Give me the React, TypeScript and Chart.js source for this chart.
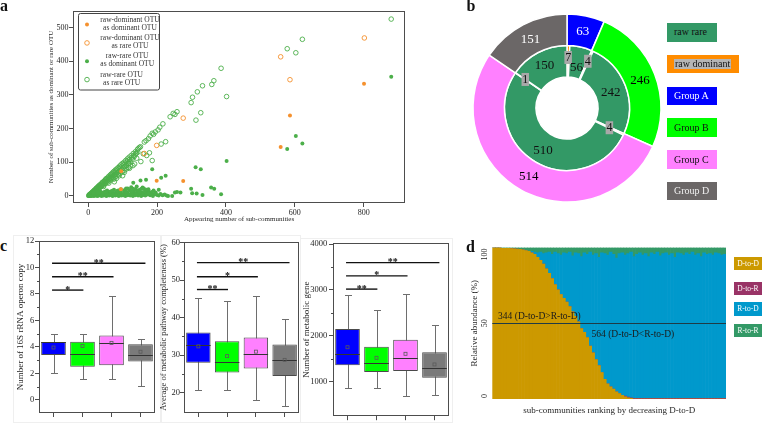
import React, { useEffect, useRef } from 'react';
import { Chart, registerables } from 'chart.js';

Chart.register(...registerables);

const SERIF = '"Liberation Serif", "Times New Roman", Times, serif';
const AXIS = '#4d4d4d';
const TEXT = '#262626';

type Pt = [number, number];

/* ---------- a: raw dominant / rare OTUs across sub-communities ---------- */
const scatterXTicks = [0, 200, 400, 600, 800];
const scatterYTicks = [0, 100, 200, 300, 400, 500];
const scatterSeriesNames = [
  'raw-dominant OTU\nas dominant OTU',
  'raw-dominant OTU\nas rare OTU',
  'raw-rare OTU\nas dominant OTU',
  'raw-rare OTU\nas rare OTU',
];
const dominantAsDominant: Pt[] = [
  [801, 333], [586, 239], [559, 145], [276, 44], [199, 45], [95, 20], [96, 73],
];
const dominantAsRare: Pt[] = [
  [802, 469], [559, 413], [586, 345], [276, 231], [199, 150], [163, 126],
];
const rareAsDominant: Pt[] = [
  [880, 354], [603, 178], [622, 156], [578, 139], [402, 104], [312, 85], [327, 79],
  [186, 79], [225, 60], [212, 54], [168, 48], [152, 46], [131, 39], [141, 28], [158, 25],
  [299, 21], [302, 8], [315, 7], [332, 3], [357, 25], [366, 21], [386, 5], [258, 12],
  [252, 10], [244, 0], [232, 0], [268, 10],
  [0, 0], [2, 1], [4, 0], [5, 2], [7, 1], [9, 3], [10, 0], [12, 2], [14, 4], [15, 1],
  [17, 0], [19, 3], [20, 5], [22, 1], [24, 2], [25, 6], [27, 0], [29, 3], [31, 1], [33, 7],
  [35, 2], [37, 4], [39, 0], [41, 8], [43, 3], [45, 1], [47, 5], [49, 9], [51, 2], [53, 0],
  [55, 6], [57, 3], [59, 10], [61, 1], [63, 4], [65, 7], [67, 2], [69, 11], [71, 0], [73, 5],
  [75, 3], [77, 8], [79, 1], [81, 12], [83, 4], [85, 2], [87, 6], [89, 0], [91, 9], [93, 3],
  [95, 13], [97, 1], [99, 5], [102, 2], [104, 8], [106, 15], [108, 0], [111, 4], [113, 10],
  [115, 2], [118, 6], [120, 17], [122, 1], [125, 3], [127, 8], [130, 0], [132, 12], [135, 5],
  [137, 2], [140, 9], [143, 14], [145, 1], [148, 4], [151, 7], [154, 0], [157, 11], [160, 3],
  [163, 6], [166, 1], [169, 9], [172, 4], [176, 13], [180, 2], [184, 7], [188, 0], [192, 5],
  [196, 10], [200, 3], [205, 1], [210, 6], [216, 2], [222, 4], [228, 1],
  [110, 22], [125, 26], [138, 20], [150, 18], [162, 22], [175, 20], [190, 16], [205, 18],
  [15, 9], [25, 12], [35, 14], [45, 11], [55, 16], [65, 13], [75, 18], [85, 15], [95, 20],
  [105, 17], [115, 22], [125, 14], [135, 19], [145, 16], [155, 21], [165, 15], [175, 8],
  [185, 12], [195, 6], [30, 10], [50, 13], [70, 15], [90, 17], [110, 12], [130, 21],
  [150, 11], [170, 18],
];
const rareAsRare: Pt[] = [
  [880, 525], [622, 465], [603, 425], [578, 437], [386, 379], [402, 295], [365, 342],
  [359, 331], [317, 309], [303, 293], [299, 277], [332, 327], [327, 247], [313, 225],
  [247, 245], [258, 250], [252, 242], [238, 235], [217, 214], [208, 204], [203, 196],
  [186, 186], [225, 161], [212, 154], [186, 105], [170, 120], [153, 102], [130, 90],
  [141, 112], [178, 128], [160, 125], [76, 42], [118, 96], [195, 190], [190, 183],
  [180, 178], [175, 170], [168, 164], [163, 160],
  [2, 2], [4, 3], [5, 5], [7, 6], [8, 4], [10, 9], [11, 7], [13, 12], [14, 10], [16, 15],
  [17, 12], [19, 18], [20, 14], [22, 21], [23, 17], [25, 24], [26, 19], [28, 27], [30, 23],
  [31, 30], [33, 26], [34, 33], [36, 29], [38, 36], [39, 31], [41, 40], [43, 34], [44, 42],
  [46, 37], [48, 46], [49, 39], [51, 50], [53, 43], [54, 52], [56, 45], [58, 56], [60, 49],
  [61, 59], [63, 51], [65, 63], [67, 54], [68, 66], [70, 57], [72, 70], [74, 60], [75, 73],
  [77, 63], [79, 77], [81, 66], [83, 80], [85, 69], [87, 84], [89, 72], [91, 88], [93, 75],
  [95, 92], [97, 79], [99, 96], [102, 83], [104, 100], [106, 87], [109, 105], [111, 91],
  [114, 110], [117, 97], [119, 115], [122, 103], [125, 120], [128, 109], [131, 126],
  [134, 117], [137, 131], [140, 127], [143, 138], [146, 141], [149, 144], [152, 146],
  [30, 18], [45, 28], [60, 38], [75, 50], [90, 60], [105, 70], [120, 82], [135, 95],
  [100, 60], [82, 52],
  [6, 5], [12, 11], [18, 16], [24, 22], [30, 27], [36, 32], [42, 38], [48, 43], [54, 49],
  [60, 54], [66, 59], [72, 65], [78, 70], [84, 76], [90, 81], [96, 86], [102, 92], [108, 97],
  [114, 103], [120, 108], [126, 113], [132, 119], [138, 124], [144, 130],
  [9, 6], [15, 11], [21, 15], [27, 19], [33, 24], [39, 28], [45, 32], [51, 37], [57, 41],
  [63, 45], [69, 50], [75, 54], [81, 58], [87, 63], [93, 67], [99, 71], [105, 76], [111, 80],
  [117, 84], [123, 89],
];

/* ---------- b: raw rare / dominant OTUs within the four groups ---------- */
const groupNames = ['Group A', 'Group B', 'Group C', 'Group D'];
const groupTotals = [63, 246, 514, 151];
const otuKinds = ['raw dominant', 'raw rare', 'raw dominant', 'raw rare', 'raw dominant', 'raw rare', 'raw dominant', 'raw rare'];
const otuCounts = [7, 56, 4, 242, 4, 510, 1, 150];
const donutLegendNames = ['raw rare', 'raw dominant', 'Group A', 'Group B', 'Group C', 'Group D'];

/* ---------- c: genomic traits per group ---------- */
const boxGroups = ['Group A', 'Group B', 'Group C', 'Group D'];

const copyTicks = [0, 2, 4, 6, 8, 10, 12];
const copyLow = [2.0, 1.56, 1.56, 1.03];
const copyQ1 = [3.38, 2.5, 2.6, 2.9];
const copyMedian = [4.36, 3.46, 4.26, 3.36];
const copyQ3 = [4.36, 4.38, 4.86, 4.19];
const copyHigh = [4.94, 4.94, 7.84, 4.59];
const copyMean = [3.95, 4.06, 4.3, 3.63];
const copySigLevel = [8.29, 9.3, 10.32];
const copySigMark = ['*', '**', '**'];

const compTicks = [20, 30, 40, 50, 60];
const compLow = [20.6, 20.6, 18.1, 16.4];
const compQ1 = [27.9, 25.3, 26.4, 24.4];
const compMedian = [32.6, 28.0, 30.2, 28.6];
const compQ3 = [36.0, 33.7, 34.7, 32.8];
const compHigh = [45.2, 44.4, 45.8, 39.7];
const compMean = [32.3, 29.7, 30.9, 28.7];
const compSigLevel = [47.5, 50.9, 54.7];
const compSigMark = ['**', '*', '**'];

const geneTicks = [1000, 2000, 3000, 4000];
const geneLow = [870, 870, 688, 710];
const geneQ1 = [1360, 1208, 1230, 1087];
const geneMedian = [1607, 1412, 1520, 1304];
const geneQ3 = [2150, 1759, 1911, 1642];
const geneHigh = [2878, 2553, 2900, 2228];
const geneMean = [1750, 1520, 1607, 1375];
const geneSigLevel = [3017, 3306, 3594];
const geneSigMark = ['**', '*', '**'];

// comparison brackets all start at Group A (index 0)
const sigFrom = [-0.05, -0.05, -0.05];
const sigTo = [1.03, 2.07, 3.17];

/* ---------- d: transition composition of sub-communities ---------- */
const transitionNames = ['D-to-D', 'D-to-R', 'R-to-D', 'R-to-R'];
const dToD = [
  100, 100, 100, 99.5, 99.5, 99.5, 99.3, 99.2, 99, 98.8,
  98.5, 98, 97.5, 96.5, 95.5, 93.5, 91.5, 89, 86, 83,
  79.5, 75.5, 72, 69, 66.5, 64, 61, 57.5, 54.5, 51,
  46.5, 44, 40.5, 35, 30.5, 26, 22, 17.5, 13, 10,
  8, 6.5, 4.8, 3.5, 2.5, 1.5, 0.8, 0.4, 0, 0,
  0, 0, 0, 0, 0, 0, 0, 0, 0, 0,
  0, 0, 0, 0, 0, 0, 0, 0, 0, 0,
  0, 0, 0, 0, 0, 0, 0, 0, 0, 0,
];
const dToR = [
  0, 0, 0, 0, 0, 0, 0, 0, 0, 0,
  0, 0, 0, 0, 0, 0, 0, 0, 0, 0,
  0, 0, 0, 0, 0, 0, 0, 0, 0, 0,
  0, 0, 0, 0, 0, 0, 0, 0, 0, 0,
  0, 0, 0, 0, 0, 0.4, 0.4, 0.4, 0.4, 0.4,
  0.4, 0.4, 0.4, 0.4, 0.4, 0.4, 0.4, 0.4, 0.4, 0.4,
  0.4, 0.4, 0.4, 0.4, 0.4, 0.4, 0.4, 0.4, 0.4, 0.4,
  0.4, 0.4, 0.4, 0.4, 0.4, 0.4, 0.4, 0.4, 0.4, 0.4,
];
const rToD = [
  0, 0, 0, 0, 0, 0, 0, 0, 0, 0,
  0, 0, 0, 1, 1.5, 3, 5.5, 7, 10.5, 14,
  16, 21.5, 24, 26, 30, 32, 36, 37, 42, 45,
  47.5, 52.5, 55, 62, 64.5, 70, 71.5, 79, 83, 85,
  89, 89, 88.2, 92.5, 94, 93.1, 94.8, 96.2, 93.6, 95.1,
  96.1, 94.6, 95.6, 93.6, 96.1, 95.1, 96.6, 94.1, 95.6, 96.1,
  94.6, 95.6, 93.1, 96.1, 95.6, 94.6, 96.1, 95.1, 96.6, 94.6,
  95.6, 93.6, 96.1, 95.1, 95.6, 94.6, 96.1, 95.6, 94.6, 95.1,
];
const rToR = [
  0, 0, 0, 0.5, 0.5, 0.5, 0.7, 0.8, 1, 1.2,
  1.5, 2, 2.5, 2.5, 3, 3.5, 3, 4, 3.5, 3,
  4.5, 3, 4, 5, 3.5, 4, 3, 5.5, 3.5, 4,
  6, 3.5, 4.5, 3, 5, 4, 6.5, 3.5, 4, 5,
  3, 4.5, 7, 4, 3.5, 5, 4, 3, 6, 4.5,
  3.5, 5, 4, 6, 3.5, 4.5, 3, 5.5, 4, 3.5,
  5, 4, 6.5, 3.5, 4, 5, 3.5, 4.5, 3, 5,
  4, 6, 3.5, 4.5, 4, 5, 3.5, 4, 5, 4.5,
];
const abundanceTicks = [0, 50, 100];
const splitLevel = 50;
const splitNotes = ['344 (D-to-D>R-to-D)', '564 (D-to-D<R-to-D)'];
const splitNoteRank = [2, 34];
const splitNoteLevel = [54.5, 42.5];

/* ---------- colours ---------- */
const RAW_RARE = '#339966';
const RAW_DOM = '#ff8c00';
const GROUP_COLORS = ['#0000ff', '#00ff00', '#ff80ff', '#6b6767'];
const BOX_COLORS = ['#0000ff', '#00ff00', '#ff80ff', '#7a7a7a'];
const ORANGE = '#f5912e';
const GREEN = '#4caf4a';
const TRANSITION_COLORS = ['#cc9900', '#993366', '#0099cc', '#339966'];

/* ---------- helpers ---------- */
const toXY = (arr: Pt[]) => arr.map(([x, y]) => ({ x, y }));
const fixedWidth = (w: number) => (s: any) => { s.width = w; };
const fixedHeight = (h: number) => (s: any) => { s.height = h; };
const fixedTicks = (vals: number[]) => (s: any) => { s.ticks = vals.map((value) => ({ value })); };
const plainNumber = (v: any) => String(v);
const font = (size: number, weight?: string) => ({ family: SERIF, size, weight: weight as any });

const baseOptions = {
  responsive: false,
  animation: false as const,
  devicePixelRatio: 1,
  events: [] as any[],
};

const framePlugin = (minor: boolean) => ({
  id: 'frame',
  afterDatasetsDraw(chart: any) {
    const { ctx, chartArea: a } = chart;
    const l = Math.round(a.left) + 0.5;
    const t = Math.round(a.top) + 0.5;
    const r = Math.round(a.right) - 0.5;
    const b = Math.round(a.bottom) - 0.5;
    ctx.save();
    ctx.strokeStyle = AXIS;
    ctx.lineWidth = 1;
    ctx.strokeRect(l, t, r - l, b - t);
    if (minor) {
      const y = chart.scales.y;
      const vals = y.ticks.map((tk: any) => tk.value);
      ctx.beginPath();
      for (let i = 0; i < vals.length - 1; i++) {
        const py = Math.round(y.getPixelForValue((vals[i] + vals[i + 1]) / 2)) + 0.5;
        ctx.moveTo(l, py);
        ctx.lineTo(l - 2.5, py);
      }
      ctx.stroke();
    }
    ctx.restore();
  },
});

/* ---------- a ---------- */
const scatterLegend = {
  id: 'scatterLegend',
  afterDraw(chart: any) {
    const { ctx, chartArea: a } = chart;
    const bx = a.left + 4.5;
    const by = a.top + 2;
    const bw = 81;
    const bh = 76.5;
    ctx.save();
    ctx.fillStyle = '#fff';
    ctx.strokeStyle = '#444';
    ctx.lineWidth = 1;
    ctx.beginPath();
    (ctx as any).roundRect(Math.round(bx) + 0.5, Math.round(by) + 0.5, bw, bh, 2);
    ctx.fill();
    ctx.stroke();
    ctx.font = `7.5px ${SERIF}`;
    ctx.textBaseline = 'middle';
    ctx.textAlign = 'center';
    chart.data.datasets.forEach((ds: any, i: number) => {
      const cy = by + 10.6 + i * 18.33;
      ctx.beginPath();
      ctx.arc(bx + 9.5, cy + 1, ds.pointRadius, 0, Math.PI * 2);
      if (ds.pointBorderWidth > 0) {
        ctx.strokeStyle = ds.pointBorderColor;
        ctx.lineWidth = ds.pointBorderWidth;
        ctx.stroke();
      } else {
        ctx.fillStyle = ds.pointBackgroundColor;
        ctx.fill();
      }
      const lines: string[] = ds.label.split('\n');
      const blockW = Math.max(...lines.map((s) => ctx.measureText(s).width));
      const cx = bx + 22.8 + blockW / 2;
      ctx.fillStyle = '#333';
      lines.forEach((s, j) => ctx.fillText(s, cx, cy - 4 + j * 8));
    });
    ctx.restore();
  },
};

function scatterConfig(): any {
  const series = [dominantAsDominant, dominantAsRare, rareAsDominant, rareAsRare];
  const colors = [ORANGE, ORANGE, GREEN, GREEN];
  const filled = [true, false, true, false];
  return {
    type: 'scatter',
    data: {
      datasets: series.map((s, i) => ({
        label: scatterSeriesNames[i],
        data: toXY(s),
        pointRadius: filled[i] ? 2 : 2.3,
        pointBackgroundColor: filled[i] ? colors[i] : 'rgba(255,255,255,0)',
        pointBorderColor: colors[i],
        pointBorderWidth: filled[i] ? 0 : 0.9,
      })),
    },
    options: {
      ...baseOptions,
      layout: { padding: { left: 45, top: 11, right: 10, bottom: 0 } },
      plugins: { legend: { display: false }, tooltip: { enabled: false } },
      scales: {
        x: {
          type: 'linear',
          min: -44,
          max: 920,
          afterBuildTicks: fixedTicks(scatterXTicks),
          ticks: { font: font(8), color: TEXT, padding: 1, maxRotation: 0, callback: plainNumber },
          grid: { drawOnChartArea: false, tickLength: 4, color: AXIS },
          border: { display: false },
          title: {
            display: true,
            text: 'Appearing number of sub-communities',
            font: font(7),
            color: TEXT,
            padding: { top: 0, bottom: 6.3 },
          },
          afterFit: fixedHeight(27),
        },
        y: {
          min: -21,
          max: 549,
          afterBuildTicks: fixedTicks(scatterYTicks),
          ticks: { font: font(8), color: TEXT, padding: 0.5, callback: plainNumber },
          grid: { drawOnChartArea: false, tickLength: 4, color: AXIS },
          border: { display: false },
          title: {
            display: true,
            text: 'Number of sub-communities as dominant or rare OTU',
            font: font(7),
            color: TEXT,
            padding: { top: 1.8, bottom: 0 },
          },
          afterFit: fixedWidth(28),
        },
      },
    },
    plugins: [framePlugin(false), scatterLegend],
  };
}

/* ---------- b ---------- */
const outerLabelColors = ['#ffffff', '#000000', '#000000', '#ffffff'];
// radial placement of the inner-ring value labels (fraction of ring thickness)
const innerLabelRadius = [0.62, 0.36, 0.64, 0.5, 0.5, 0.55, 0.62, 0.55];

const donutLabels = {
  id: 'donutLabels',
  afterDatasetsDraw(chart: any) {
    const { ctx } = chart;
    ctx.save();
    ctx.textAlign = 'center';
    ctx.textBaseline = 'middle';
    chart.data.datasets.forEach((ds: any, di: number) => {
      const meta = chart.getDatasetMeta(di);
      meta.data.forEach((arc: any, i: number) => {
        const p = arc.getProps(['startAngle', 'endAngle', 'innerRadius', 'outerRadius', 'x', 'y'], true);
        const v = ds.data[i];
        const small = v < 10;
        const a = (p.startAngle + p.endAngle) / 2;
        const f = di === 0 ? 0.5 : innerLabelRadius[i];
        const r = p.innerRadius + (p.outerRadius - p.innerRadius) * f;
        const px = p.x + r * Math.cos(a);
        const py = p.y + r * Math.sin(a);
        const txt = String(v);
        if (small) {
          ctx.font = `12px ${SERIF}`;
          const w = ctx.measureText(txt).width + 1.5;
          ctx.fillStyle = '#a8a8a8';
          ctx.fillRect(px - w / 2, py - 6.5, w, 13);
          ctx.fillStyle = '#111';
          ctx.fillText(txt, px, py + 0.5);
        } else {
          ctx.font = `13px ${SERIF}`;
          ctx.fillStyle = di === 0 ? outerLabelColors[i] : '#111';
          ctx.fillText(txt, px, py + 0.5);
        }
      });
    });
    ctx.restore();
  },
};

function donutConfig(): any {
  return {
    type: 'doughnut',
    data: {
      labels: groupNames,
      datasets: [
        {
          label: 'group',
          data: groupTotals,
          backgroundColor: GROUP_COLORS,
          borderColor: '#ffffff',
          borderWidth: 1.5,
        },
        {
          label: 'raw status',
          data: otuCounts,
          backgroundColor: otuKinds.map((k) => (k === 'raw dominant' ? RAW_DOM : RAW_RARE)),
          borderColor: '#ffffff',
          borderWidth: 1.5,
        },
      ],
    },
    options: {
      ...baseOptions,
      radius: 94,
      cutout: '33%',
      layout: { padding: 0 },
      plugins: { legend: { display: false }, tooltip: { enabled: false } },
    },
    plugins: [donutLabels],
  };
}

/* ---------- c ---------- */
type BoxPanel = {
  title: string;
  titleSize: number;
  titlePad: number;
  ticks: number[];
  min: number;
  max: number;
  low: number[];
  q1: number[];
  median: number[];
  q3: number[];
  high: number[];
  mean: number[];
  sigLevel: number[];
  sigMark: string[];
  padding: { left: number; top: number; right: number; bottom: number };
  yWidth: number;
  xHeight: number;
  tickPad: number;
};

const boxExtras = (p: BoxPanel) => ({
  id: 'boxExtras',
  beforeDatasetsDraw(chart: any) {
    const { ctx, scales: { x, y } } = chart;
    ctx.save();
    ctx.strokeStyle = '#6e6e6e';
    ctx.lineWidth = 1;
    ctx.beginPath();
    p.low.forEach((lo, i) => {
      const cx = Math.round(x.getPixelForValue(i)) + 0.5;
      const yl = Math.round(y.getPixelForValue(lo)) + 0.5;
      const yh = Math.round(y.getPixelForValue(p.high[i])) + 0.5;
      ctx.moveTo(cx, yl);
      ctx.lineTo(cx, yh);
      ctx.moveTo(cx - 3.5, yl);
      ctx.lineTo(cx + 3.5, yl);
      ctx.moveTo(cx - 3.5, yh);
      ctx.lineTo(cx + 3.5, yh);
    });
    ctx.stroke();
    ctx.restore();
  },
  afterDatasetsDraw(chart: any) {
    const { ctx, scales: { x, y } } = chart;
    const bars = chart.getDatasetMeta(0).data;
    ctx.save();
    bars.forEach((bar: any, i: number) => {
      const half = bar.width / 2;
      const ym = Math.round(y.getPixelForValue(p.median[i])) + 0.5;
      ctx.strokeStyle = '#333';
      ctx.lineWidth = 1;
      ctx.beginPath();
      ctx.moveTo(bar.x - half, ym);
      ctx.lineTo(bar.x + half, ym);
      ctx.stroke();
      const yMean = y.getPixelForValue(p.mean[i]);
      ctx.strokeStyle = '#5a5a5a';
      ctx.lineWidth = 0.8;
      ctx.strokeRect(bar.x - 1.5, yMean - 1.5, 3, 3);
    });
    ctx.strokeStyle = '#111';
    ctx.fillStyle = '#111';
    ctx.lineWidth = 1.4;
    ctx.font = `bold 10px ${SERIF}`;
    ctx.textAlign = 'center';
    ctx.textBaseline = 'alphabetic';
    p.sigLevel.forEach((lv, k) => {
      const yy = y.getPixelForValue(lv);
      const x1 = x.getPixelForValue(sigFrom[k]);
      const x2 = x.getPixelForValue(sigTo[k]);
      ctx.beginPath();
      ctx.moveTo(x1, yy);
      ctx.lineTo(x2, yy);
      ctx.stroke();
      ctx.fillText(p.sigMark[k], (x1 + x2) / 2, yy + 2.5);
    });
    ctx.restore();
  },
});

function boxConfig(p: BoxPanel): any {
  return {
    type: 'bar',
    data: {
      labels: boxGroups,
      datasets: [
        {
          label: p.title,
          data: boxGroups.map((_, i) => [p.q1[i], p.q3[i]]),
          backgroundColor: BOX_COLORS,
          borderColor: '#4a4a4a',
          borderWidth: 1,
          borderSkipped: false,
          barPercentage: 0.85,
          categoryPercentage: 1,
        },
      ],
    },
    options: {
      ...baseOptions,
      layout: { padding: p.padding },
      plugins: { legend: { display: false }, tooltip: { enabled: false } },
      scales: {
        x: {
          ticks: { display: false },
          grid: { offset: false, drawOnChartArea: false, tickLength: 4, color: AXIS },
          border: { display: false },
          afterFit: fixedHeight(p.xHeight),
        },
        y: {
          min: p.min,
          max: p.max,
          afterBuildTicks: fixedTicks(p.ticks),
          ticks: { font: font(8.5), color: TEXT, padding: p.tickPad, callback: plainNumber },
          grid: { drawOnChartArea: false, tickLength: 4, color: AXIS },
          border: { display: false },
          title: {
            display: true,
            text: p.title,
            font: font(p.titleSize),
            color: TEXT,
            padding: { top: p.titlePad, bottom: 0 },
          },
          afterFit: fixedWidth(p.yWidth),
        },
      },
    },
    plugins: [boxExtras(p), framePlugin(true)],
  };
}

const copyPanel: BoxPanel = {
  title: 'Number of 16S rRNA operon copy',
  titleSize: 9, titlePad: 5.3,
  ticks: copyTicks, min: -1, max: 12,
  low: copyLow, q1: copyQ1, median: copyMedian, q3: copyQ3, high: copyHigh, mean: copyMean,
  sigLevel: copySigLevel, sigMark: copySigMark,
  padding: { left: 0, top: 9, right: 10, bottom: 0 }, yWidth: 29, xHeight: 10, tickPad: 0.7,
};
const compPanel: BoxPanel = {
  title: 'Average of metabolic pathway completeness (%)',
  titleSize: 8.5, titlePad: 3.2,
  ticks: compTicks, min: 14.5, max: 60.2,
  low: compLow, q1: compQ1, median: compMedian, q3: compQ3, high: compHigh, mean: compMean,
  sigLevel: compSigLevel, sigMark: compSigMark,
  padding: { left: 0, top: 10, right: 6, bottom: 0 }, yWidth: 29, xHeight: 10, tickPad: 0,
};
const genePanel: BoxPanel = {
  title: 'Number of metabolic gene',
  titleSize: 9, titlePad: 1.3,
  ticks: geneTicks, min: 247, max: 4022,
  low: geneLow, q1: geneQ1, median: geneMedian, q3: geneQ3, high: geneHigh, mean: geneMean,
  sigLevel: geneSigLevel, sigMark: geneSigMark,
  padding: { left: 0, top: 11, right: 11, bottom: 0 }, yWidth: 33, xHeight: 6, tickPad: 1.7,
};

/* ---------- d ---------- */
const abundanceMarks = {
  id: 'abundanceMarks',
  afterDatasetsDraw(chart: any) {
    const { ctx, chartArea: a, scales: { x, y } } = chart;
    ctx.save();
    const ym = Math.round(y.getPixelForValue(splitLevel)) + 0.5;
    ctx.strokeStyle = '#1f3b45';
    ctx.lineWidth = 1;
    ctx.beginPath();
    ctx.moveTo(a.left, ym);
    ctx.lineTo(a.right, ym);
    ctx.stroke();

    ctx.fillStyle = '#1a1a1a';
    ctx.font = `9.5px ${SERIF}`;
    ctx.textAlign = 'left';
    ctx.textBaseline = 'middle';
    splitNotes.forEach((s, i) => {
      const px = x.getPixelForValue(splitNoteRank[i]) - 1.5;
      ctx.fillText(s, px, y.getPixelForValue(splitNoteLevel[i]));
    });

    ctx.font = `8px ${SERIF}`;
    ctx.fillStyle = TEXT;
    ctx.textAlign = 'center';
    abundanceTicks.forEach((v) => {
      const s = String(v);
      const half = ctx.measureText(s).width / 2 + 1;
      let py = y.getPixelForValue(v);
      py = Math.min(Math.max(py, a.top + half), a.bottom - half);
      ctx.save();
      ctx.translate(a.left - 7, py);
      ctx.rotate(-Math.PI / 2);
      ctx.fillText(s, 0, 0);
      ctx.restore();
    });
    ctx.restore();
  },
};

function abundanceConfig(): any {
  const series = [dToD, dToR, rToD, rToR];
  return {
    type: 'bar',
    data: {
      labels: dToD.map((_, i) => i + 1),
      datasets: series.map((s, i) => ({
        label: transitionNames[i],
        data: s,
        backgroundColor: TRANSITION_COLORS[i],
        borderWidth: 0,
        barPercentage: 1,
        categoryPercentage: 1,
      })),
    },
    options: {
      ...baseOptions,
      layout: { padding: { left: 0, top: 15.5, right: 8, bottom: 0 } },
      plugins: { legend: { display: false }, tooltip: { enabled: false } },
      scales: {
        x: {
          stacked: true,
          ticks: { display: false },
          grid: { display: false },
          border: { display: false },
          title: {
            display: true,
            text: 'sub-communities ranking by decreasing D-to-D',
            font: font(9),
            color: TEXT,
            padding: { top: 0, bottom: 6.9 },
          },
          afterFit: fixedHeight(24),
        },
        y: {
          stacked: true,
          min: 0,
          max: 100,
          ticks: { display: false },
          grid: { display: false },
          border: { display: false },
          title: {
            display: true,
            text: 'Relative abundance (%)',
            font: font(9),
            color: TEXT,
            padding: { top: 7.6, bottom: 0 },
          },
          afterFit: fixedWidth(30.3),
        },
      },
    },
    plugins: [abundanceMarks],
  };
}

/* ---------- layout ---------- */
function ChartBox(props: { left: number; top: number; width: number; height: number; make: () => any }) {
  const ref = useRef<HTMLCanvasElement | null>(null);
  const { make } = props;
  useEffect(() => {
    if (!ref.current) return;
    const chart = new Chart(ref.current, make());
    return () => chart.destroy();
  }, [make]);
  return (
    <canvas
      ref={ref}
      width={props.width}
      height={props.height}
      style={{ position: 'absolute', left: props.left, top: props.top, width: props.width, height: props.height }}
    />
  );
}

const makeScatter = () => scatterConfig();
const makeDonut = () => donutConfig();
const makeCopy = () => boxConfig(copyPanel);
const makeComp = () => boxConfig(compPanel);
const makeGene = () => boxConfig(genePanel);
const makeAbundance = () => abundanceConfig();

function PanelLetter({ text, left, baseline }: { text: string; left: number; baseline: number }) {
  const size = 16;
  return (
    <div
      style={{
        position: 'absolute',
        left,
        top: baseline - size * 0.8375,
        fontFamily: SERIF,
        fontWeight: 'bold',
        fontSize: size,
        lineHeight: `${size}px`,
        color: '#111',
      }}
    >
      {text}
    </div>
  );
}

const donutLegendBoxes = [
  { top: 22.7, width: 50, height: 19.3, bg: RAW_RARE, color: '#111', mark: false },
  { top: 55, width: 72, height: 18.3, bg: RAW_DOM, color: '#111', mark: true },
  { top: 87.3, width: 50, height: 17.7, bg: GROUP_COLORS[0], color: '#fff', mark: false },
  { top: 118.3, width: 50, height: 18.7, bg: GROUP_COLORS[1], color: '#111', mark: false },
  { top: 150, width: 50, height: 19, bg: GROUP_COLORS[2], color: '#111', mark: false },
  { top: 182.3, width: 50, height: 18, bg: GROUP_COLORS[3], color: '#f2f2f2', mark: false },
];

const transitionLegendTops = [256.7, 281.7, 302.3, 324];

export default function App() {
  return (
    <div
      style={{
        position: 'absolute',
        left: 0,
        top: 0,
        width: 767,
        height: 423,
        overflow: 'hidden',
        background: '#fff',
        fontFamily: SERIF,
      }}
    >
      {/* faint outlines around the three trait panels */}
      <div style={{ position: 'absolute', left: 13, top: 235, width: 146, height: 186, border: '1px solid #efefef' }} />
      <div style={{ position: 'absolute', left: 161, top: 235, width: 138, height: 186, border: '1px solid #efefef' }} />
      <div style={{ position: 'absolute', left: 300, top: 238, width: 151, height: 183, border: '1px solid #efefef' }} />

      <ChartBox left={0} top={0} width={415} height={230} make={makeScatter} />
      <ChartBox left={467} top={8} width={200} height={200} make={makeDonut} />
      <ChartBox left={10} top={232} width={155} height={191} make={makeCopy} />
      <ChartBox left={155} top={232} width={150} height={191} make={makeComp} />
      <ChartBox left={300} top={232} width={160} height={191} make={makeGene} />
      <ChartBox left={462} top={232} width={272} height={191} make={makeAbundance} />

      {donutLegendNames.map((name, i) => {
        const b = donutLegendBoxes[i];
        return (
          <div
            key={name}
            style={{
              position: 'absolute',
              left: 667,
              top: b.top,
              width: b.width,
              height: b.height,
              background: b.bg,
              boxSizing: 'border-box',
              paddingLeft: 7,
              display: 'flex',
              alignItems: 'center',
              fontSize: 10,
              color: b.color,
              whiteSpace: 'nowrap',
            }}
          >
            <span style={{ background: b.mark ? '#b5b5b5' : 'transparent', lineHeight: '10px', padding: b.mark ? '0 1px' : 0 }}>
              {name}
            </span>
          </div>
        );
      })}

      {transitionNames.map((name, i) => (
        <div
          key={name}
          style={{
            position: 'absolute',
            left: 734.3,
            top: transitionLegendTops[i],
            width: 27.4,
            height: 13.3,
            background: TRANSITION_COLORS[i],
            color: '#fff',
            fontSize: 7.5,
            display: 'flex',
            alignItems: 'center',
            justifyContent: 'center',
            whiteSpace: 'nowrap',
          }}
        >
          {name}
        </div>
      ))}

      <PanelLetter text="a" left={0} baseline={11.7} />
      <PanelLetter text="b" left={466.5} baseline={11.7} />
      <PanelLetter text="c" left={0} baseline={251.7} />
      <PanelLetter text="d" left={466} baseline={252.3} />
    </div>
  );
}
